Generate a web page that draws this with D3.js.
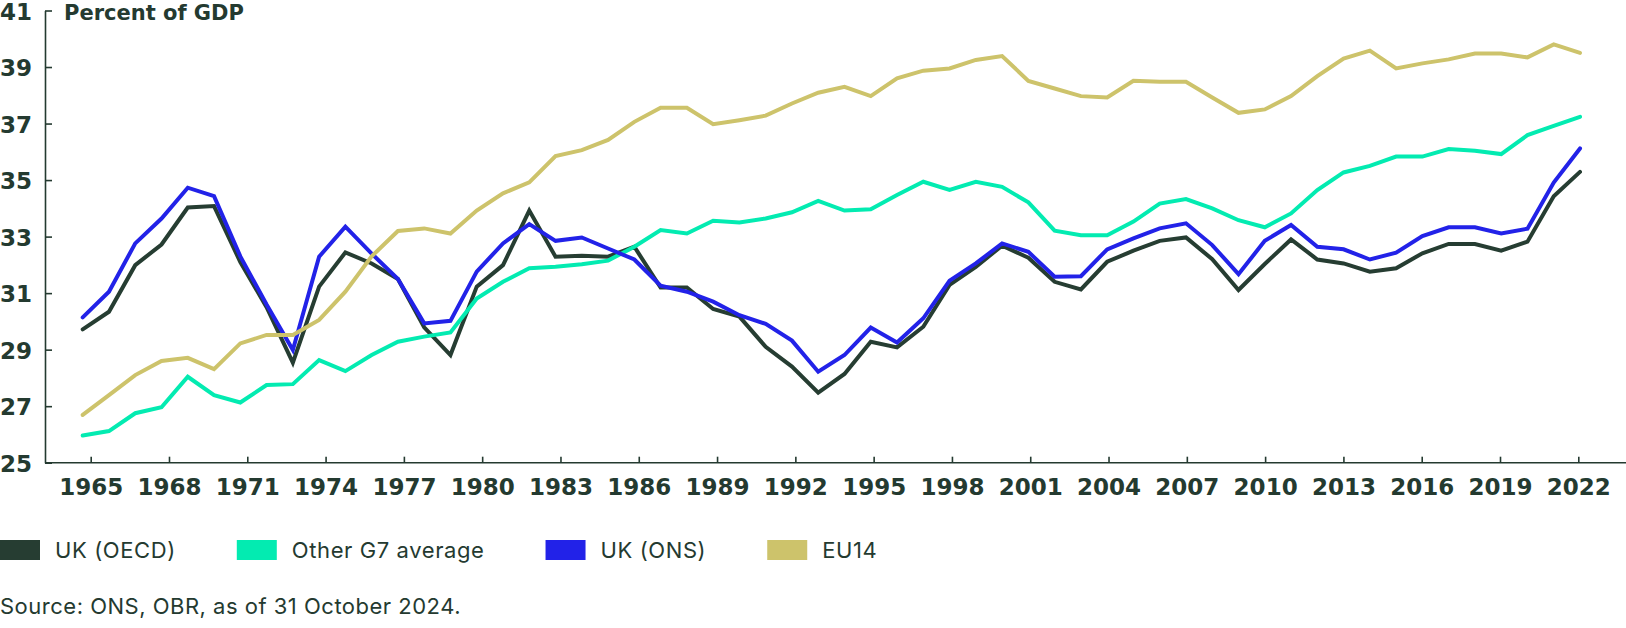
<!DOCTYPE html>
<html>
<head>
<meta charset="utf-8">
<script src="https://cdn.jsdelivr.net/npm/d3@7"></script>
<style>
    body { margin: 0; background: #fff; }
    .axis-label { font-family: 'DejaVu Sans', sans-serif; font-weight: bold; fill: #243a30; }
    .legend-label, .source { font-family: Inter, 'Noto Sans', sans-serif; fill: #243a30; }
</style>
</head>
<body>
<div class="canvas"></div>
<script>
// data
const years = d3.range(1965, 2023);

const ukOecd = [29.72, 30.34, 31.99, 32.72, 34.03, 34.08, 32.1, 30.5, 28.54, 31.23, 32.44, 32.05, 31.5,
    29.79, 28.81, 31.23, 31.99, 33.92, 32.29, 32.32, 32.29, 32.64, 31.2, 31.2, 30.44, 30.17, 29.10, 28.40, 27.48,
    28.14, 29.28, 29.08, 29.81, 31.29, 31.93, 32.68, 32.25, 31.40, 31.13, 32.11, 32.5, 32.85, 32.97, 32.2,
    31.11, 32.03, 32.90, 32.19, 32.05, 31.76, 31.88, 32.41, 32.74, 32.74, 32.5, 32.82, 34.43, 35.29];

const otherG7 = [25.96, 26.12, 26.75, 26.96, 28.04, 27.39, 27.13, 27.75, 27.78, 28.63, 28.24, 28.81, 29.28,
    29.46, 29.61, 30.81, 31.4, 31.88, 31.93, 32.02, 32.15, 32.64, 33.23, 33.11, 33.56, 33.5, 33.64, 33.86, 34.26,
    33.92, 33.97, 34.47, 34.94, 34.65, 34.94, 34.76, 34.21, 33.21, 33.05, 33.05, 33.53, 34.17, 34.33, 34.0,
    33.58, 33.33, 33.82, 34.65, 35.27, 35.5, 35.83, 35.83, 36.1, 36.04, 35.92, 36.59, 36.92, 37.24];

const ukOns = [30.14, 31.05, 32.76, 33.64, 34.73, 34.43, 32.3, 30.6, 28.99, 32.29, 33.35, 32.4, 31.5,
    29.93, 30.02, 31.76, 32.76, 33.44, 32.85, 32.97, 32.58, 32.19, 31.26, 31.05, 30.70, 30.22, 29.91, 29.32, 28.22,
    28.81, 29.78, 29.25, 30.11, 31.44, 32.05, 32.76, 32.46, 31.58, 31.60, 32.55, 32.94, 33.29, 33.47, 32.70,
    31.67, 32.85, 33.41, 32.64, 32.55, 32.19, 32.43, 33.02, 33.33, 33.33, 33.11, 33.28, 34.91, 36.12];

const eu14 = [26.69, 27.39, 28.1, 28.6, 28.71, 28.31, 29.22, 29.52, 29.52, 30.05, 31.05, 32.3, 33.2,
    33.29, 33.11, 33.92, 34.53, 34.92, 35.85, 36.06, 36.42, 37.06, 37.56, 37.56, 36.98, 37.12, 37.28, 37.71, 38.09,
    38.3, 37.97, 38.6, 38.87, 38.95, 39.25, 39.39, 38.51, 38.24, 37.97, 37.92, 38.51, 38.48, 38.48, 37.92,
    37.38, 37.5, 37.97, 38.68, 39.3, 39.58, 38.95, 39.13, 39.27, 39.48, 39.48, 39.34, 39.8, 39.5];

const seriesNames = ['UK (OECD)', 'Other G7 average', 'UK (ONS)', 'EU14'];
const seriesValues = [ukOecd, otherG7, ukOns, eu14];
const seriesColors = ['#263d32', '#03ebb1', '#2222e8', '#cdc36b'];

const xTicks = d3.range(1965, 2023, 3);
const yTicks = [25, 27, 29, 31, 33, 35, 37, 39, 41];

const width = 1626;
const height = 628;
const ink = '#243a30';

const svg = d3.select('.canvas')
    .append('svg')
    .attr('width', width)
    .attr('height', height);

// plot area
const axisX = 45;
const plotTop = 10.5;
const plotBottom = 462.7;

// lines sit slightly wider than the tick positions in the original
const x = d3.scaleLinear()
    .domain([1965, 2022])
    .range([82.7, 1580]);

const xAxisScale = d3.scaleLinear()
    .domain([1965, 2022])
    .range([90.7, 1578.3]);

const y = d3.scaleLinear()
    .domain([25, 41])
    .range([plotBottom, plotTop]);

// axes
const xAxis = d3.axisBottom(xAxisScale)
    .tickValues(xTicks)
    .tickFormat(d => d)
    .tickSizeInner(-6)
    .tickSizeOuter(0)
    .tickPadding(16);

const yAxis = d3.axisLeft(y)
    .tickValues(yTicks)
    .tickSizeInner(-7)
    .tickSizeOuter(0)
    .tickPadding(13);

const xAxisGroup = svg.append('g')
    .attr('transform', `translate(0, ${plotBottom})`)
    .call(xAxis);

xAxisGroup.select('.domain')
    .attr('d', `M${axisX},0H${width}`);

const yAxisGroup = svg.append('g')
    .attr('transform', `translate(${axisX}, 0)`)
    .call(yAxis);

[xAxisGroup, yAxisGroup].forEach(g => {
    g.select('.domain').attr('stroke', ink).attr('stroke-width', 1.6);
    g.selectAll('.tick line').attr('stroke', ink).attr('stroke-width', 1.6);
    g.selectAll('.tick text')
        .attr('class', 'axis-label')
        .attr('font-size', 23)
        .attr('fill', ink);
});

// y labels sit with right edge at x=32
yAxisGroup.selectAll('.tick text')
    .attr('x', -13)
    .attr('dy', '0.38em');

xAxisGroup.selectAll('.tick text')
    .attr('dy', '0.71em');

svg.append('text')
    .attr('class', 'axis-label')
    .attr('x', 64)
    .attr('y', 19.5)
    .attr('font-size', 21)
    .text('Percent of GDP');

// lines
const line = d3.line()
    .x((d, i) => x(years[i]))
    .y(d => y(d));

svg.append('g')
    .selectAll('path')
    .data(seriesValues)
    .enter()
    .append('path')
    .attr('d', d => line(d))
    .attr('fill', 'none')
    .attr('stroke', (d, i) => seriesColors[i])
    .attr('stroke-width', 4)
    .attr('stroke-linejoin', 'miter')
    .attr('stroke-linecap', 'round');

// legend
const legend = svg.append('g')
    .attr('transform', 'translate(0, 540)');

let lx = 0;
seriesNames.forEach((name, i) => {
    const item = legend.append('g').attr('transform', `translate(${lx}, 0)`);
    item.append('rect')
        .attr('width', 40)
        .attr('height', 20)
        .attr('fill', seriesColors[i]);
    const label = item.append('text')
        .attr('class', 'legend-label')
        .attr('x', 55)
        .attr('y', 18.3)
        .attr('font-size', 22)
        .attr('letter-spacing', 0.6)
        .text(name);
    lx += 55 + label.node().getComputedTextLength() + 61;
});

svg.append('text')
    .attr('class', 'source')
    .attr('x', 0)
    .attr('y', 614.3)
    .attr('font-size', 22)
    .attr('letter-spacing', 0.5)
    .text('Source: ONS, OBR, as of 31 October 2024.');
</script>
</body>
</html>
